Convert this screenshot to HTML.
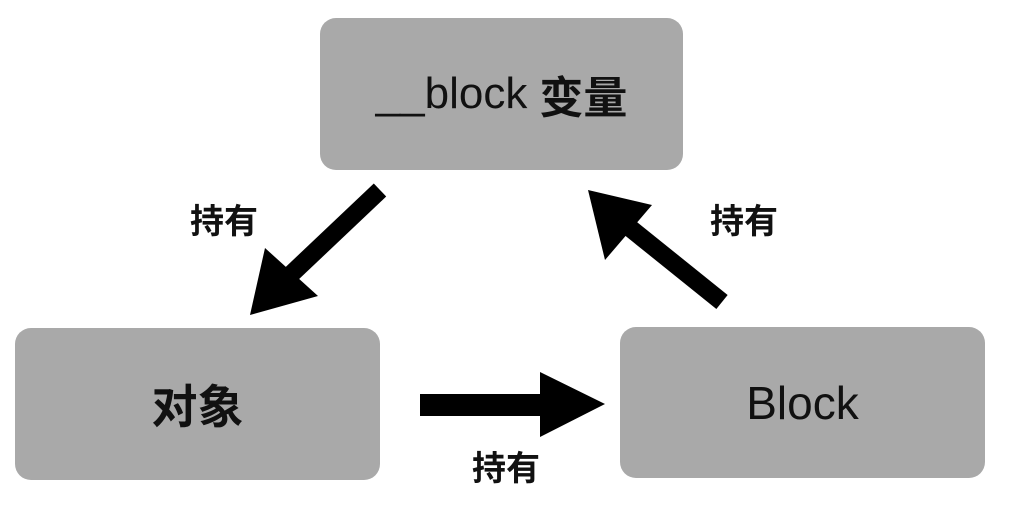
<!DOCTYPE html>
<html><head><meta charset="utf-8"><style>
html,body{margin:0;padding:0;background:#fff;width:1024px;height:508px;overflow:hidden}
.box{position:absolute;background:#a9a9a9;border-radius:16px;display:flex;align-items:center;justify-content:center;color:#111;font-family:"Liberation Sans","Noto Sans CJK SC",sans-serif;font-size:44px}
.lbl{position:absolute;font-family:"Liberation Sans","Noto Sans CJK SC",sans-serif;font-size:34px;color:#111;font-weight:bold}
</style></head><body>
<div class="box" style="left:320px;top:18px;width:363px;height:152px;padding-top:0">__block <b style="margin-left:12px">变量</b></div>
<div class="box" style="left:15px;top:328px;width:365px;height:152px;font-weight:bold;font-size:46px">对象</div>
<div class="box" style="left:620px;top:327px;width:365px;height:151px;font-size:46px">Block</div>
<svg width="1024" height="508" style="position:absolute;left:0;top:0">
<line x1="380" y1="190" x2="285" y2="280" stroke="#000" stroke-width="18"/>
<polygon points="250,315 265,248 318,296" fill="#000"/>
<line x1="722" y1="302" x2="630" y2="228" stroke="#000" stroke-width="18"/>
<polygon points="588,190 652,205 605,260" fill="#000"/>
<rect x="420" y="394" width="125" height="22" fill="#000"/>
<polygon points="605,404 540,372 540,437" fill="#000"/>
</svg>
<div class="lbl" style="left:190px;top:194px">持有</div>
<div class="lbl" style="left:710px;top:194px">持有</div>
<div class="lbl" style="left:472px;top:441px">持有</div>
</body></html>
